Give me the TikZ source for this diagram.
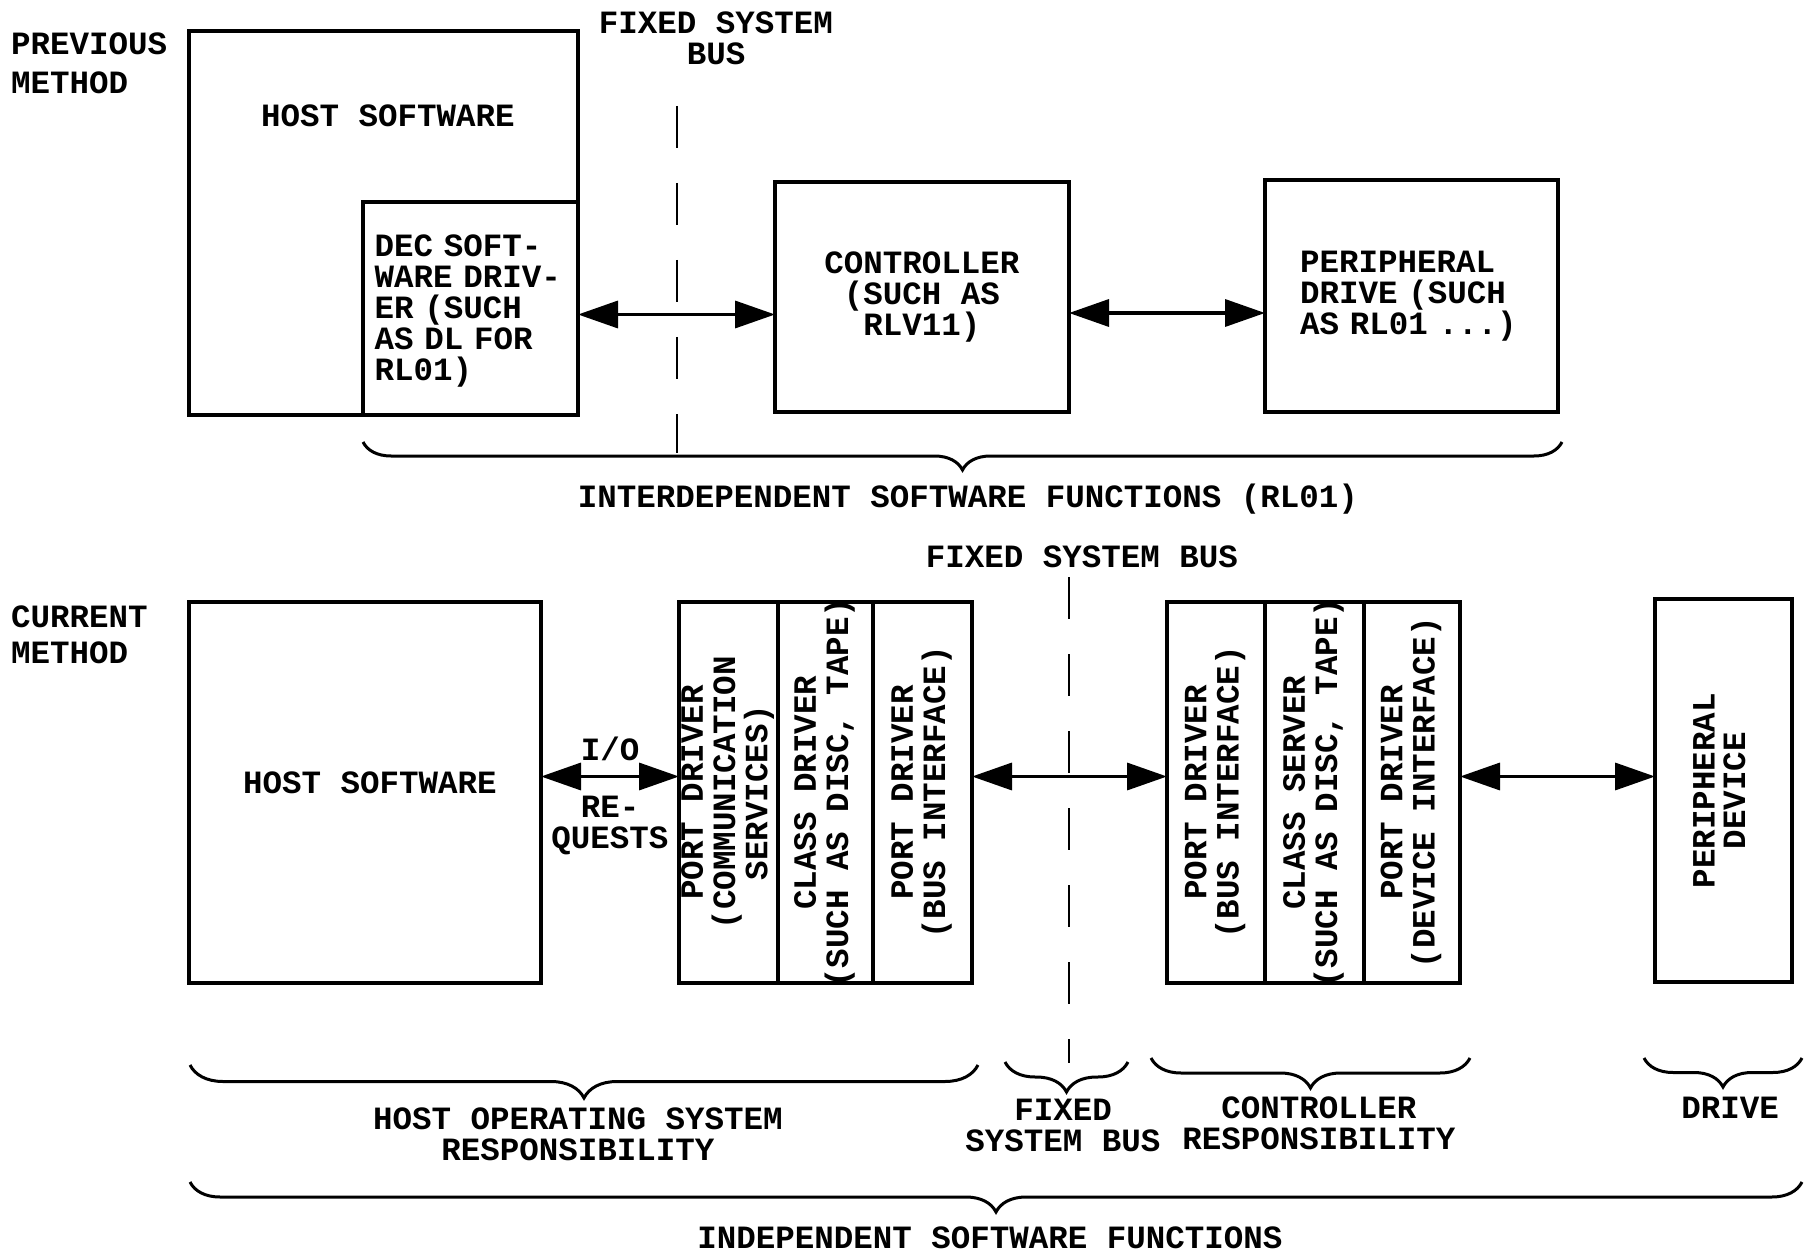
\documentclass[tikz,border=0pt]{standalone}
\usepackage{fontspec}
\setmainfont{Liberation Mono}
\usepackage{graphicx}
\usetikzlibrary{positioning, arrows.meta, decorations.pathreplacing}

\tikzset{
  txt/.style={font=\fontsize{32.5}{31}\selectfont\bfseries, align=center, inner sep=0pt},
  box/.style={txt, draw, line width=3.5pt, outer sep=0pt},
  cell/.style={box, minimum height=381pt, minimum width=#1},
  arr/.style={{Triangle[length=40pt,width=27pt]}-{Triangle[length=40pt,width=27pt]}, line width=3.5pt},
  bus/.style={line width=2.5pt, dash pattern=on 42pt off 35pt},
  brc/.style={decorate, decoration={brace, amplitude=#1}, line width=3pt},
  brc/.default=30pt
}
% upright text in the tall driver cells; long lines may run over the cell border
\newcommand{\vtext}[1]{\rotatebox{90}{\makebox[340pt]{\fontsize{32.5}{29}\selectfont
  \begin{tabular}{@{}c@{}}#1\end{tabular}}}}

\begin{document}
\begin{tikzpicture}[x=1pt, y=-1pt]
  \useasboundingbox (0,0) rectangle (1805,1257);

  % previous method
  \node[txt, align=left, anchor=west] (prevlbl) at (11,63) {PREVIOUS\\[8pt]METHOD};
  \node[box, minimum width=389pt, minimum height=384pt] (host) at (383.5,223) {};
  \node[txt] (hosttxt) at (388,116) {HOST SOFTWARE};
  \node[box, minimum width=215pt, minimum height=213pt] (dec) at (470.5,308.5) {};
  \node[txt, text width=195pt, align=left] (dectxt) at (472,311)
    {DEC SOFT-\\WARE DRIV-\\ER (SUCH\\AS DL FOR\\RL01)};
  \node[box, minimum width=294pt, minimum height=230pt] (ctrl) at (922,297)
    {CONTROLLER\\(SUCH AS\\RLV11)};
  \node[box, minimum width=293pt, minimum height=232pt, text width=223pt, align=left]
    (per) at (1411.5,296) {PERIPHERAL\\DRIVE (SUCH\\AS RL01 ...)};

  \draw[arr] ([yshift=-6pt]dec.east) -- ([yshift=-6pt]dec.east -| ctrl.west);
  \draw[arr] ([yshift=-16pt]ctrl.east) -- ([yshift=-16pt]ctrl.east -| per.west);

  \node[txt] (busA) at (716,38) {FIXED SYSTEM\\BUS};
  \coordinate (busAtop) at (677,106);
  \coordinate (busAbot) at (677,453);
  \draw[bus] (busAtop) -- (busAbot);

  \draw[brc=28pt] (1562,442) -- (363,442);
  \node[txt] (interdep) at (968,499) {INTERDEPENDENT SOFTWARE FUNCTIONS (RL01)};

  % current method
  \node[txt, align=left, anchor=west] (curlbl) at (11,635) {CURRENT\\[5pt]METHOD};
  \node[box, minimum width=352pt, minimum height=381pt] (host2) at (365,792.5) {};
  \node[txt] (host2txt) at (370,783) {HOST SOFTWARE};

  \node[cell=99pt] (lp1) at (728.5,792.5) {\vtext{PORT DRIVER\\(COMMUNICATION\\SERVICES)}};
  \node[cell=95pt, right=0pt of lp1] (lp2) {\vtext{CLASS DRIVER\\(SUCH AS DISC, TAPE)}};
  \node[cell=99pt, right=0pt of lp2] (lp3) {\vtext{PORT DRIVER\\(BUS INTERFACE)}};

  \node[cell=98pt] (rp1) at (1216,792.5) {\vtext{PORT DRIVER\\(BUS INTERFACE)}};
  \node[cell=99pt, right=0pt of rp1] (rp2) {\vtext{CLASS SERVER\\(SUCH AS DISC, TAPE)}};
  \node[cell=96pt, right=0pt of rp2] (rp3) {\vtext{PORT DRIVER\\(DEVICE INTERFACE)}};

  \node[box, minimum width=137pt, minimum height=383pt] (dev) at (1723.5,790.5)
    {\vtext{PERIPHERAL\\DEVICE}};

  \draw[arr] ([yshift=16pt]host2.east) -- ([yshift=16pt]host2.east -| lp1.west)
    node[midway, above=14pt, txt] (io) {I/O}
    node[midway, below=18pt, txt] (req) {RE-\\QUESTS};
  \draw[arr] ([yshift=16pt]lp3.east) -- ([yshift=16pt]lp3.east -| rp1.west);
  \draw[arr] ([yshift=16pt]rp3.east) -- ([yshift=16pt]rp3.east -| dev.west);

  \node[txt] (busB) at (1082,557) {FIXED SYSTEM BUS};
  \coordinate (busBtop) at (1069,577);
  \coordinate (busBbot) at (1069,1063);
  \draw[bus] (busBtop) -- (busBbot);

  % who is responsible for what
  \draw[brc=33pt] (978,1065) -- (190,1065);
  \draw[brc] (1128,1062) -- (1005,1062);
  \draw[brc] (1470,1058) -- (1151,1058);
  \draw[brc=29pt] (1802,1058) -- (1644,1058);
  \draw[brc] (1802,1182) -- (190,1182);

  \node[txt] (hostresp) at (578,1134) {HOST OPERATING SYSTEM\\RESPONSIBILITY};
  \node[txt] (busresp) at (1063,1125) {FIXED\\SYSTEM BUS};
  \node[txt] (ctrlresp) at (1319,1123) {CONTROLLER\\RESPONSIBILITY};
  \node[txt] (drvresp) at (1730,1108) {DRIVE};
  \node[txt] (indep) at (990,1238) {INDEPENDENT SOFTWARE FUNCTIONS};
\end{tikzpicture}
\end{document}
